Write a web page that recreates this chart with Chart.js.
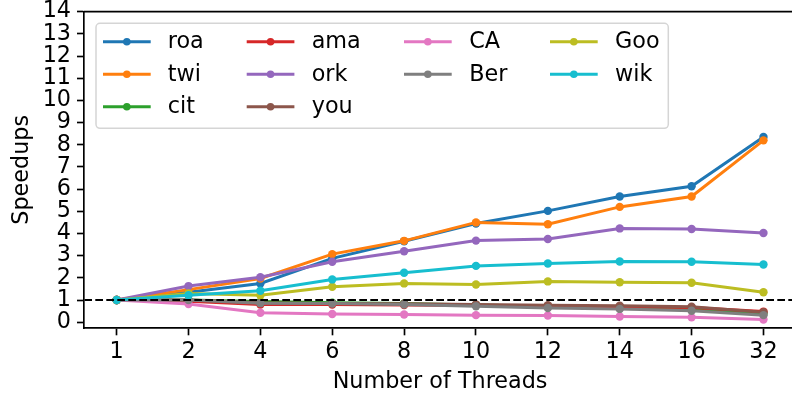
<!DOCTYPE html>
<html>
<head>
<meta charset="utf-8">
<script src="https://cdn.jsdelivr.net/npm/chart.js@4"></script>
<style>
  html, body { margin: 0; padding: 0; overflow: hidden; background: #fff; width: 792px; height: 396px; }
  #c { display: block; }
</style>
</head>
<body>
<canvas id="c" width="800" height="396" style="width:800px;height:396px"></canvas>
<script>
const categories = ['1', '2', '4', '6', '8', '10', '12', '14', '16', '32'];
const yTicks = [0, 1, 2, 3, 4, 5, 6, 7, 8, 9, 10, 11, 12, 13, 14];

const seriesNames = ['roa', 'twi', 'cit', 'ama', 'ork', 'you', 'CA', 'Ber', 'Goo', 'wik'];
const roa = [1, 1.35, 1.75, 2.88, 3.65, 4.45, 5.02, 5.67, 6.13, 8.35];
const twi = [1, 1.47, 1.97, 3.07, 3.67, 4.50, 4.42, 5.20, 5.67, 8.20];
const cit = [1, 1.00, 0.93, 0.88, 0.85, 0.78, 0.72, 0.68, 0.62, 0.38];
const ama = [1, 0.95, 0.80, 0.80, 0.78, 0.76, 0.73, 0.70, 0.66, 0.48];
const ork = [1, 1.63, 2.03, 2.73, 3.20, 3.68, 3.75, 4.23, 4.20, 4.02];
const you = [1, 1.00, 0.88, 0.85, 0.83, 0.80, 0.77, 0.74, 0.70, 0.45];
const CA  = [1, 0.82, 0.43, 0.37, 0.35, 0.32, 0.30, 0.26, 0.22, 0.12];
const Ber = [1, 1.00, 0.86, 0.84, 0.80, 0.72, 0.64, 0.60, 0.52, 0.32];
const Goo = [1, 1.30, 1.22, 1.60, 1.75, 1.70, 1.84, 1.80, 1.78, 1.35];
const wik = [1, 1.22, 1.42, 1.93, 2.23, 2.54, 2.65, 2.74, 2.73, 2.60];
const baseline = 1;

const seriesValues = [roa, twi, cit, ama, ork, you, CA, Ber, Goo, wik];
const colors = ['#1f77b4', '#ff7f0e', '#2ca02c', '#d62728', '#9467bd',
                '#8c564b', '#e377c2', '#7f7f7f', '#bcbd22', '#17becf'];

const FONT = '"DejaVu Sans", "Liberation Sans", sans-serif';
const FS = 22.3;
Chart.defaults.color = '#000';
Chart.defaults.font.family = FONT;

const datasets = seriesNames.map((name, i) => ({
  label: name,
  data: seriesValues[i].map((v, j) => ({ x: j, y: v })),
  borderColor: colors[i],
  backgroundColor: colors[i],
  borderWidth: 3,
  pointRadius: 4.2,
  pointBorderWidth: 0,
  pointHoverRadius: 4.2,
  tension: 0,
  order: 20 - i
}));
datasets.push({
  label: '_baseline',
  data: [{ x: -0.45, y: baseline }, { x: categories.length - 0.55, y: baseline }],
  borderColor: '#000',
  borderWidth: 2,
  borderDash: [7.7, 3.3],
  pointRadius: 0,
  order: 0
});

// legend: matplotlib ncol=4 -> columns of 3,3,2,2 entries
const legendLayout = {
  box: { x: 96, y: 23.3, w: 572.3, h: 105 },
  cols: [ { line: 103, text: 167.7 }, { line: 246.7, text: 311.7 },
          { line: 404, text: 469.3 }, { line: 550, text: 615 } ],
  rows: [41.7, 74.2, 106.7],
  colSizes: [3, 3, 2, 2],
  handleLen: 47.7
};

const extras = {
  id: 'extras',
  afterDraw(chart) {
    const ctx = chart.ctx;
    const a = chart.chartArea;
    ctx.save();
    ctx.strokeStyle = '#000';
    ctx.lineWidth = 1.67;
    ctx.beginPath();
    ctx.moveTo(a.left - 0.8, a.top);
    ctx.lineTo(a.right + 1, a.top);
    ctx.stroke();
    ctx.restore();

    const L = legendLayout;
    ctx.save();
    ctx.beginPath();
    ctx.roundRect(L.box.x, L.box.y, L.box.w, L.box.h, 4);
    ctx.fillStyle = 'rgba(255,255,255,0.8)';
    ctx.fill();
    ctx.strokeStyle = '#d5d5d5';
    ctx.lineWidth = 1.5;
    ctx.stroke();
    let idx = 0;
    L.colSizes.forEach((n, c) => {
      for (let r = 0; r < n; r++, idx++) {
        const i = idx;
        const y = L.rows[r];
        const x0 = L.cols[c].line;
        ctx.strokeStyle = colors[i];
        ctx.lineWidth = 3;
        ctx.beginPath();
        ctx.moveTo(x0, y);
        ctx.lineTo(x0 + L.handleLen, y);
        ctx.stroke();
        ctx.fillStyle = colors[i];
        ctx.beginPath();
        ctx.arc(x0 + L.handleLen / 2, y, 3.8, 0, Math.PI * 2);
        ctx.fill();
        ctx.fillStyle = '#000';
        ctx.font = FS + 'px ' + FONT;
        ctx.textBaseline = 'middle';
        ctx.textAlign = 'left';
        ctx.fillText(seriesNames[i], L.cols[c].text, y + 1);
      }
    });
    ctx.restore();
  }
};

new Chart(document.getElementById('c'), {
  type: 'line',
  data: { datasets },
  options: {
    responsive: false,
    animation: false,
    devicePixelRatio: 1,
    layout: { padding: { top: 11.7, right: 0, left: 0, bottom: 0 } },
    plugins: { legend: { display: false }, tooltip: { enabled: false } },
    scales: {
      x: {
        type: 'linear',
        min: -0.45,
        max: categories.length - 0.55,
        afterBuildTicks(scale) { scale.ticks = categories.map((c, i) => ({ value: i })); },
        afterFit(scale) { scale.height = 68; scale.paddingLeft = 0; scale.paddingRight = 0; },
        grid: { display: true, drawOnChartArea: false, drawTicks: true, tickLength: 7.3,
                tickColor: '#000', tickWidth: 1.67 },
        border: { display: true, color: '#000', width: 1.67 },
        ticks: {
          font: { size: FS, family: FONT },
          padding: 4,
          maxRotation: 0,
          autoSkip: false,
          callback: (v) => categories[v]
        },
        title: { display: true, text: 'Number of Threads', font: { size: FS, family: FONT },
                 padding: { top: 0, bottom: 0 } }
      },
      y: {
        type: 'linear',
        min: -0.26,
        max: 14,
        afterBuildTicks(scale) { scale.ticks = yTicks.map(v => ({ value: v })); },
        afterFit(scale) { scale.width = 84.3; scale.paddingTop = 0; scale.paddingBottom = 0; },
        grid: { display: true, drawOnChartArea: false, drawTicks: true, tickLength: 7.3,
                tickColor: '#000', tickWidth: 1.67 },
        border: { display: true, color: '#000', width: 1.67 },
        ticks: {
          font: { size: FS, family: FONT },
          padding: 6,
          autoSkip: false,
          callback: (v) => String(v)
        },
        title: { display: true, text: 'Speedups', font: { size: FS, family: FONT },
                 padding: { top: 9, bottom: 0 } }
      }
    }
  },
  plugins: [extras]
});
</script>
</body>
</html>
